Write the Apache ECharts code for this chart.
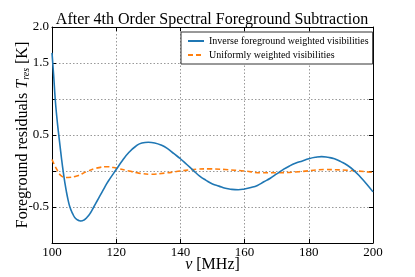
<!DOCTYPE html>
<html><head><meta charset="utf-8">
<script src="https://cdn.jsdelivr.net/npm/echarts@6/dist/echarts.min.js"></script>
<style>html,body{margin:0;padding:0;background:#fff}#c{width:415px;height:277px}</style>
</head><body><div id="c"></div>
<script>
const seriesNames = ['Inverse foreground weighted visibilities', 'Uniformly weighted visibilities'];
const invFreq = [100, 100.5, 101, 101.5, 102, 102.5, 103, 103.5, 104, 104.5, 105, 105.5, 106, 106.5, 107, 107.5, 108, 108.5, 109, 110, 111, 112, 113, 114, 115, 116, 117, 118, 120, 122, 124, 126, 128, 130, 132, 134, 136, 138, 140, 142, 144, 146, 148, 150, 152, 154, 156, 158, 160, 162, 164, 166, 168, 170, 172, 174, 176, 178, 180, 182, 184, 186, 188, 190, 192, 194, 196, 198, 200];
const invVals = [1.64, 1.34, 1.0, 0.75, 0.54, 0.35, 0.16, -0.01, -0.16, -0.29, -0.40, -0.49, -0.55, -0.60, -0.64, -0.665, -0.68, -0.69, -0.695, -0.68, -0.64, -0.58, -0.50, -0.42, -0.34, -0.26, -0.18, -0.11, 0.02, 0.15, 0.26, 0.34, 0.39, 0.40, 0.39, 0.36, 0.31, 0.24, 0.17, 0.09, 0.01, -0.07, -0.13, -0.18, -0.21, -0.24, -0.255, -0.26, -0.25, -0.23, -0.20, -0.15, -0.10, -0.04, 0.02, 0.07, 0.11, 0.14, 0.17, 0.19, 0.20, 0.19, 0.17, 0.13, 0.08, 0.01, -0.08, -0.18, -0.29];
const uniFreq = [100, 101.4, 103, 105, 107.7, 110.7, 113.8, 117.4, 120, 124, 127, 131, 135, 140, 145, 149, 154, 160, 165, 170, 177, 185, 192, 200];
const uniVals = [0.16, 0.03, -0.07, -0.09, -0.07, -0.01, 0.04, 0.06, 0.04, 0.0, -0.03, -0.045, -0.03, 0.0, 0.025, 0.03, 0.02, 0.0, -0.025, -0.025, -0.01, 0.02, 0.01, -0.02];
const yTickLabels = ['2.0', '1.5', '0.5', '-0.5'];

const FONT = '"Liberation Serif", "DejaVu Serif", serif';
const chart = echarts.init(document.getElementById('c'), null, {renderer: 'canvas'});
const pair = (xs, ys) => xs.map((x, i) => [x, ys[i]]);
const tickStyle = {show: true, inside: true, length: 4, lineStyle: {color: '#000', width: 1}};
const gridLine = {show: true, lineStyle: {color: '#999', type: [1.5, 2], width: 1}};
chart.setOption({
  animation: false,
  title: {text: 'After 4th Order Spectral Foreground Subtraction', left: 207, textAlign: 'center', top: 7,
    textStyle: {fontFamily: FONT, fontSize: 16, fontWeight: 'normal', color: '#000'}},
  grid: {left: 52, right: 42, top: 27, bottom: 34, outerBoundsMode: 'none', containLabel: false},
  legend: {orient: 'vertical', left: 181, top: 32, padding: [4, 4, 4, 6], itemGap: 4, itemWidth: 16, itemHeight: 10,
    borderColor: '#333', borderWidth: 1, backgroundColor: '#fff',
    itemStyle: {opacity: 0},
    textStyle: {fontFamily: FONT, fontSize: 10, color: '#000'}, data: seriesNames},
  xAxis: [{type: 'value', min: 100, max: 200, interval: 20,
    name: '{i|ν} [MHz]', nameLocation: 'middle', nameGap: 14, nameMoveOverlap: false,
    nameTextStyle: {fontFamily: FONT, fontSize: 16, color: '#000', verticalAlign: 'top', rich: {i: {fontFamily: FONT, fontStyle: 'italic', fontSize: 16}}},
    axisLine: {show: true, onZero: false, lineStyle: {color: '#000', width: 1}},
    axisTick: tickStyle, splitLine: gridLine,
    axisLabel: {fontFamily: FONT, fontSize: 13, color: '#000', margin: 3}},
   {type: 'value', min: 100, max: 200, interval: 20, position: 'top',
    axisLine: {show: true, onZero: false, lineStyle: {color: '#000', width: 1}},
    axisTick: tickStyle, axisLabel: {show: false}, splitLine: {show: false}}],
  yAxis: [{type: 'value', min: -1, max: 2, interval: 0.5,
    name: 'Foreground residuals {i|T}{s|res} [K]', nameLocation: 'middle', nameGap: 21, nameRotate: 90, nameMoveOverlap: false,
    nameTextStyle: {fontFamily: FONT, fontSize: 16, color: '#000', verticalAlign: 'bottom', rich: {i: {fontFamily: FONT, fontStyle: 'italic', fontSize: 16}, s: {fontFamily: FONT, fontStyle: 'italic', fontSize: 10, verticalAlign: 'bottom', padding: [6, 0, 0, 0]}}},
    axisLine: {show: true, onZero: false, lineStyle: {color: '#000', width: 1}},
    axisTick: tickStyle, splitLine: gridLine,
    axisLabel: {fontFamily: FONT, fontSize: 13, color: '#000', margin: 3,
      formatter: v => { const s = v.toFixed(1); return yTickLabels.includes(s) ? s : ''; }}},
   {type: 'value', min: -1, max: 2, interval: 0.5, position: 'right',
    axisLine: {show: true, onZero: false, lineStyle: {color: '#000', width: 1}},
    axisTick: tickStyle, axisLabel: {show: false}, splitLine: {show: false}}],
  series: [
    {name: seriesNames[0], type: 'line', data: pair(invFreq, invVals), smooth: true, symbol: 'none',
      lineStyle: {color: '#1f77b4', width: 1.6}, itemStyle: {color: '#1f77b4'}, z: 3},
    {name: seriesNames[1], type: 'line', data: pair(uniFreq, uniVals), smooth: 0.4, symbol: 'none',
      lineStyle: {color: '#ff7f0e', width: 1.6, type: [5, 3]}, itemStyle: {color: '#ff7f0e'}, z: 2}
  ]
});
</script></body></html>
